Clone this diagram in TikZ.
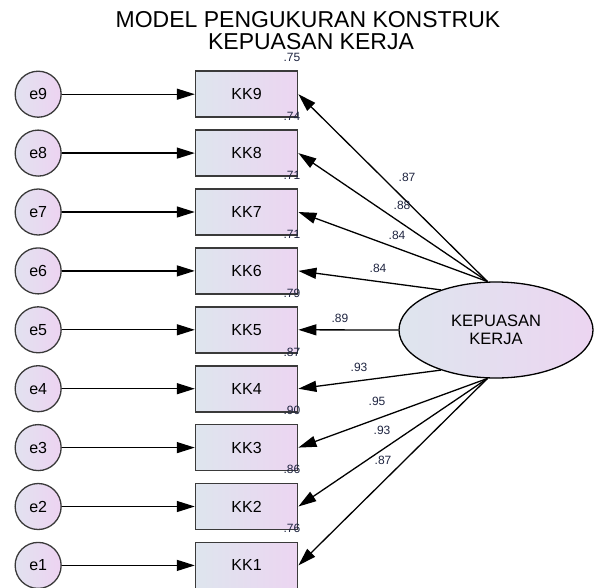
\documentclass[tikz,border=0pt]{standalone}
\usepackage{fontspec}
\setmainfont{Liberation Sans}
\usetikzlibrary{shapes.geometric,arrows.meta}
\definecolor{fillleft}{HTML}{DEE5EE}
\definecolor{fillright}{HTML}{ECD5F1}
\definecolor{errleft}{HTML}{E2E2F0}
\definecolor{errright}{HTML}{EDD3F1}
\definecolor{edge}{HTML}{3A3A3A}
\definecolor{numtext}{HTML}{1E2440}

\begin{document}
\begin{tikzpicture}[x=1pt,y=-1pt]
  \useasboundingbox (0,0) rectangle (594,587);
  %
  \tikzstyle{kk} = [anchor=center, draw=edge, line width=1.6pt, left color=fillleft, right color=fillright, minimum width=102pt, minimum height=46pt, inner sep=0pt, font=\fontsize{16}{18}\selectfont]
  \tikzstyle{err} = [anchor=center, circle, draw=edge, line width=1.3pt, left color=errleft, right color=errright, minimum size=46pt, inner sep=0pt, font=\fontsize{16}{18}\selectfont]
  \tikzstyle{lv} = [ellipse, draw=black, line width=1.3pt, left color=fillleft, right color=fillright, minimum width=194pt, minimum height=96pt, inner sep=0pt, align=center, font=\fontsize{16.5}{17.5}\selectfont]
  \tikzstyle{arr} = [-{Triangle[length=18pt,width=11pt]}, line width=1.3pt]
  \tikzstyle{wt} = [inner sep=0pt, text=numtext, font=\fontsize{12}{13}\selectfont]
  \tikzstyle{smc} = [inner sep=0pt, anchor=east, text=numtext, font=\fontsize{12}{13}\selectfont]
  \tikzstyle{title} = [inner sep=0pt, anchor=base, font=\fontsize{23}{23}\selectfont]
  %
  \node[title] (title1) at (308,27) {MODEL PENGUKURAN KONSTRUK};
  \node[title] (title2) at (311,49) {KEPUASAN KERJA};
  %
  \matrix[row sep=11.3pt, column sep=133pt, anchor=north west, inner sep=0pt] (model) at (14.3,70.2)
  {
    \node[err] (e9) {e9}; & \node[kk] (kk9) {KK9}; \\
    \node[err] (e8) {e8}; & \node[kk] (kk8) {KK8}; \\
    \node[err] (e7) {e7}; & \node[kk] (kk7) {KK7}; \\
    \node[err] (e6) {e6}; & \node[kk] (kk6) {KK6}; \\
    \node[err] (e5) {e5}; & \node[kk] (kk5) {KK5}; \\
    \node[err] (e4) {e4}; & \node[kk] (kk4) {KK4}; \\
    \node[err] (e3) {e3}; & \node[kk] (kk3) {KK3}; \\
    \node[err] (e2) {e2}; & \node[kk] (kk2) {KK2}; \\
    \node[err] (e1) {e1}; & \node[kk] (kk1) {KK1}; \\
  };
  %
  \node[lv] (kepuasan) at (496,330) {KEPUASAN\\KERJA};
  %
  % error terms
  \draw[arr] (e9) -- (kk9);
  \draw[arr] (e8) -- (kk8);
  \draw[arr] (e7) -- (kk7);
  \draw[arr] (e6) -- (kk6);
  \draw[arr] (e5) -- (kk5);
  \draw[arr] (e4) -- (kk4);
  \draw[arr] (e3) -- (kk3);
  \draw[arr] (e2) -- (kk2);
  \draw[arr] (e1) -- (kk1);
  %
  % loadings
  \draw[arr] (kepuasan.100) -- (kk9.east);
  \draw[arr] (kepuasan.100) -- (kk8.east);
  \draw[arr] (kepuasan.100) -- (kk7.east);
  \draw[arr] (kepuasan.144) -- (kk6.east);
  \draw[arr] (kepuasan.west) -- (kk5.east);
  \draw[arr] (kepuasan.216) -- (kk4.east);
  \draw[arr] (kepuasan.260) -- (kk3.east);
  \draw[arr] (kepuasan.260) -- (kk2.east);
  \draw[arr] (kepuasan.260) -- (kk1.east);
  %
  \node[wt] (w9) at (407,177) {.87};
  \node[wt] (w8) at (402,205) {.88};
  \node[wt] (w7) at (397,235) {.84};
  \node[wt] (w6) at (378,268) {.84};
  \node[wt] (w5) at (340,318) {.89};
  \node[wt] (w4) at (359,367) {.93};
  \node[wt] (w3) at (377,401) {.95};
  \node[wt] (w2) at (382,430) {.93};
  \node[wt] (w1) at (383,460) {.87};
  %
  \node[smc] (r9) at ([shift={(2,-13)}]kk9.north east) {.75};
  \node[smc] (r8) at ([shift={(2,-13)}]kk8.north east) {.74};
  \node[smc] (r7) at ([shift={(2,-13)}]kk7.north east) {.71};
  \node[smc] (r6) at ([shift={(2,-13)}]kk6.north east) {.71};
  \node[smc] (r5) at ([shift={(2,-13)}]kk5.north east) {.79};
  \node[smc] (r4) at ([shift={(2,-13)}]kk4.north east) {.87};
  \node[smc] (r3) at ([shift={(2,-13)}]kk3.north east) {.90};
  \node[smc] (r2) at ([shift={(2,-13)}]kk2.north east) {.86};
  \node[smc] (r1) at ([shift={(2,-13)}]kk1.north east) {.76};
\end{tikzpicture}
\end{document}
